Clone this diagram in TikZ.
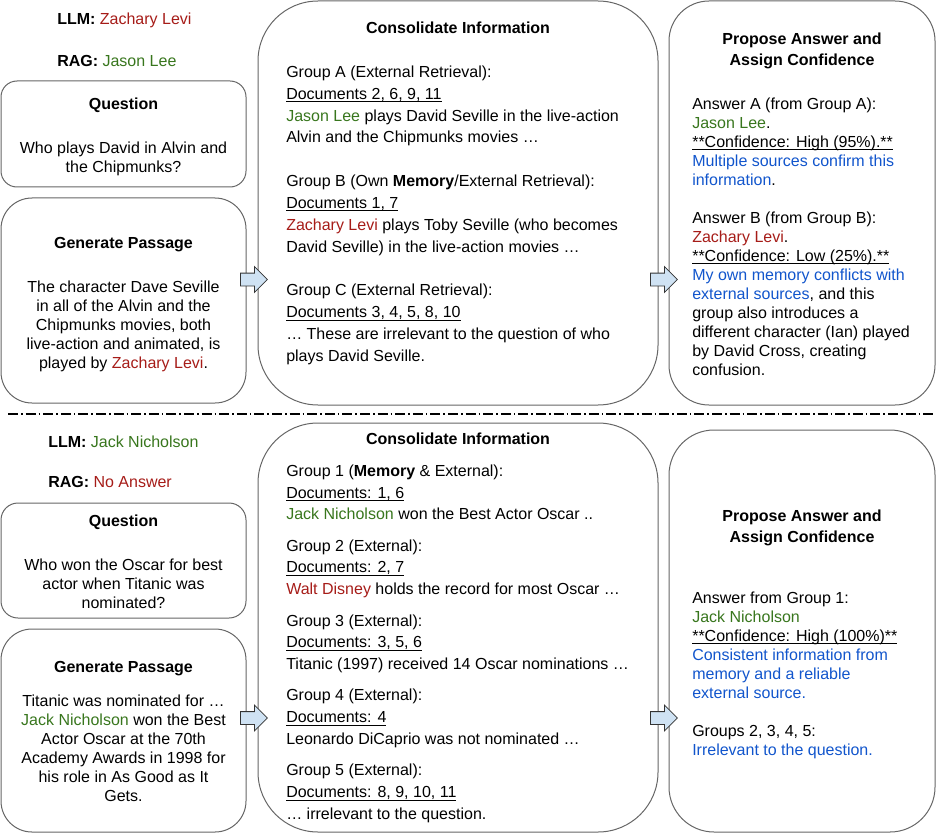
\documentclass[tikz,border=0pt]{standalone}
\usepackage{fontspec}
\setmainfont{Liberation Sans}
\usetikzlibrary{shapes.arrows}
\definecolor{cred}{RGB}{166,28,24}
\definecolor{cgreen}{HTML}{38761D}
\definecolor{cblue}{HTML}{1155CC}
\definecolor{boxgray}{HTML}{666666}
\definecolor{arrowblue}{HTML}{CFE2F3}
\newcommand\firststrut{\rule{0pt}{12pt}}
\newcommand\myul[1]{\setbox0=\hbox{#1}\rlap{\rule[-2.2pt]{\wd0}{0.7pt}}\box0}
\tikzset{
  box/.style={draw=boxgray, line width=0.75pt, rectangle, inner sep=0pt},
  txt/.style={inner sep=0pt, anchor=north west, align=left, font=\fontsize{12pt}{14.25pt}\selectfont},
  ctxt/.style={inner sep=0pt, anchor=north, align=center, font=\fontsize{12pt}{14.25pt}\selectfont},
  ttl/.style={inner sep=0pt, anchor=north, align=center, font=\fontsize{12pt}{15.75pt}\selectfont\bfseries},
  blockarrow/.style={single arrow, draw=black!80, fill=arrowblue, line width=0.6pt,
    inner sep=4.5pt, minimum height=20.25pt, minimum width=0pt,
    single arrow head extend=4.875pt, anchor=tail},
  sepline/.style={line width=0.9pt, dash pattern=on 7.5pt off 2.25pt on 1.2pt off 2.25pt}
}
\begin{document}
\begin{tikzpicture}[x=0.75pt,y=-0.75pt]
\useasboundingbox (0,0) rectangle (937,834);

% ---------- top half ----------
\node[box, minimum width=245*0.75pt, minimum height=106*0.75pt, rounded corners=12pt] (qA) at (123.5,134) {};
\node[box, minimum width=245*0.75pt, minimum height=205*0.75pt, rounded corners=23.25pt] (gA) at (123.5,300.5) {};
\node[box, minimum width=400*0.75pt, minimum height=404*0.75pt, rounded corners=45pt] (cA) at (458,203) {};
\node[box, minimum width=266*0.75pt, minimum height=404*0.75pt, rounded corners=30pt] (pA) at (802,203) {};

\node[txt] (llmA) at (57,8) {\firststrut\textbf{LLM:} \textcolor{cred}{Zachary Levi}};
\node[txt] (ragA) at (57,50) {\firststrut\textbf{RAG:} \textcolor{cgreen}{Jason Lee}};

\node[ttl] (qAt) at (123.5,93) {\firststrut Question};
\node[ctxt] (qAb) at (123.5,137) {\firststrut Who plays David in Alvin and\\the Chipmunks?};

\node[ttl] (gAt) at (123.5,232) {\firststrut Generate Passage};
\node[ctxt] (gAb) at (123.5,276) {\firststrut The character Dave Seville\\in all of the Alvin and the\\Chipmunks movies, both\\live-action and animated, is\\played by \textcolor{cred}{Zachary Levi}.};

\node[ttl] (cAt) at (458,17) {\firststrut Consolidate Information};
\node[txt, font=\fontsize{12pt}{16.4pt}\selectfont] (cAb) at (286,61) {\firststrut Group A (External Retrieval):\\
\myul{Documents 2, 6, 9, 11}\\
\textcolor{cgreen}{Jason Lee} plays David Seville in the live-action\\
Alvin and the Chipmunks movies …\\[16.4pt]
Group B (Own \textbf{Memory}/External Retrieval):\\
\myul{Documents 1, 7}\\
\textcolor{cred}{Zachary Levi} plays Toby Seville (who becomes\\
David Seville) in the live-action movies …\\[16.4pt]
Group C (External Retrieval):\\
\myul{Documents 3, 4, 5, 8, 10}\\
… These are irrelevant to the question of who\\
plays David Seville.};

\node[ttl] (pAt) at (802,28) {\firststrut Propose Answer and\\Assign Confidence};
\node[txt] (pAb) at (692,93) {\firststrut Answer A (from Group A):\\
\textcolor{cgreen}{Jason Lee}.\\
\myul{**Confidence: High (95\%).**}\\
\textcolor{cblue}{Multiple sources confirm this}\\
\textcolor{cblue}{information}.\\[14.25pt]
Answer B (from Group B):\\
\textcolor{cred}{Zachary Levi}.\\
\myul{**Confidence: Low (25\%).**}\\
\textcolor{cblue}{My own memory conflicts with}\\
\textcolor{cblue}{external sources}, and this\\
group also introduces a\\
different character (Ian) played\\
by David Cross, creating\\
confusion.};

\node[blockarrow] (aA1) at (240,279.5) {};
\node[blockarrow] (aA2) at (650,279.5) {};

% ---------- separator ----------
\coordinate (sepL) at (8,414);
\coordinate (sepR) at (935,414);
\draw[sepline] (sepL) -- (sepR);

% ---------- bottom half ----------
\node[box, minimum width=245*0.75pt, minimum height=115*0.75pt, rounded corners=12.75pt] (qB) at (123.5,560.5) {};
\node[box, minimum width=245*0.75pt, minimum height=203*0.75pt, rounded corners=23.25pt] (gB) at (123.5,730.5) {};
\node[box, minimum width=400*0.75pt, minimum height=409*0.75pt, rounded corners=45pt] (cB) at (458,627.5) {};
\node[box, minimum width=266*0.75pt, minimum height=402*0.75pt, rounded corners=33.75pt] (pB) at (802,631) {};

\node[txt] (llmB) at (48,431) {\firststrut\textbf{LLM:} \textcolor{cgreen}{Jack Nicholson}};
\node[txt] (ragB) at (48,471) {\firststrut\textbf{RAG:} \textcolor{cred}{No Answer}};

\node[ttl] (qBt) at (123.5,510) {\firststrut Question};
\node[ctxt] (qBb) at (123.5,554) {\firststrut Who won the Oscar for best\\actor when Titanic was\\nominated?};

\node[ttl] (gBt) at (123.5,656) {\firststrut Generate Passage};
\node[ctxt] (gBb) at (123.5,690) {\firststrut Titanic was nominated for …\\
\textcolor{cgreen}{Jack Nicholson} won the Best\\
Actor Oscar at the 70th\\
Academy Awards in 1998 for\\
his role in As Good as It\\
Gets.};

\node[ttl] (cBt) at (458,428) {\firststrut Consolidate Information};
\node[txt, font=\fontsize{12pt}{16.35pt}\selectfont] (cBb) at (286,460) {\firststrut Group 1 (\textbf{Memory} \& External):\\
\myul{Documents: 1, 6}\\
\textcolor{cgreen}{Jack Nicholson} won the Best Actor Oscar ..\\[7.1pt]
Group 2 (External):\\
\myul{Documents: 2, 7}\\
\textcolor{cred}{Walt Disney} holds the record for most Oscar …\\[7.1pt]
Group 3 (External):\\
\myul{Documents: 3, 5, 6}\\
Titanic (1997) received 14 Oscar nominations …\\[7.1pt]
Group 4 (External):\\
\myul{Documents: 4}\\
Leonardo DiCaprio was not nominated …\\[7.1pt]
Group 5 (External):\\
\myul{Documents: 8, 9, 10, 11}\\
… irrelevant to the question.};

\node[ttl] (pBt) at (802,505) {\firststrut Propose Answer and\\Assign Confidence};
\node[txt] (pBb) at (692,587) {\firststrut Answer from Group 1:\\
\textcolor{cgreen}{Jack Nicholson}\\
\myul{**Confidence: High (100\%)**}\\
\textcolor{cblue}{Consistent information from}\\
\textcolor{cblue}{memory and a reliable}\\
\textcolor{cblue}{external source.}\\[14.25pt]
Groups 2, 3, 4, 5:\\
\textcolor{cblue}{Irrelevant to the question.}};

\node[blockarrow] (aB1) at (240,718) {};
\node[blockarrow] (aB2) at (650,718) {};
\end{tikzpicture}
\end{document}
